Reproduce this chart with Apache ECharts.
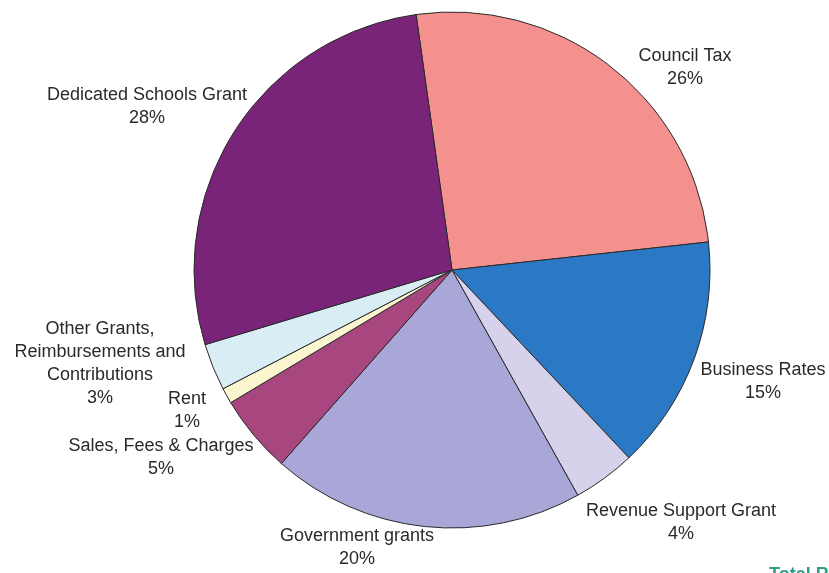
<!DOCTYPE html>
<html>
<head>
<meta charset="utf-8">
<script src="https://cdn.jsdelivr.net/npm/echarts@6/dist/echarts.min.js"></script>
<style>
  html, body { margin: 0; padding: 0; background: #ffffff; }
  #chart { width: 829px; height: 573px; }
</style>
</head>
<body>
<div id="chart"></div>
<script>
// Income sources, in clockwise order from the top
const categories = [
  'Council Tax',
  'Business Rates',
  'Revenue Support Grant',
  'Government grants',
  'Sales, Fees & Charges',
  'Rent',
  'Other Grants,\nReimbursements and\nContributions',
  'Dedicated Schools Grant'
];
const shares = [26, 15, 4, 20, 5, 1, 3, 28];

const sliceColors = ['#F4918F', '#2B79C4', '#D6D2EC', '#A9A6D8', '#A8467F', '#FBF6CF', '#D8EEF4', '#7A2479'];

// Where each label block is centred
const labelSpots = [
  [685, 68], [763, 382], [681, 523], [357, 548],
  [161, 458], [187, 411], [100, 364], [147, 107]
];

const chart = echarts.init(document.getElementById('chart'), null, { renderer: 'canvas' });

chart.setOption({
  backgroundColor: '#ffffff',
  animation: false,
  series: [{
    type: 'pie',
    center: [452, 270],
    radius: 258,
    startAngle: 98,
    clockwise: true,
    avoidLabelOverlap: false,
    itemStyle: { borderColor: '#2a2a2a', borderWidth: 1 },
    label: {
      show: true,
      position: 'outside',
      formatter: p => p.name + '\n' + p.value + '%',
      color: '#2a2a2a',
      fontFamily: 'Liberation Sans, Arial, sans-serif',
      fontSize: 18,
      lineHeight: 23,
      align: 'center'
    },
    labelLine: { show: false },
    emphasis: { disabled: true },
    labelLayout: params => {
      const s = labelSpots[params.dataIndex];
      return { x: s[0], y: s[1], align: 'center', verticalAlign: 'middle' };
    },
    data: categories.map((c, i) => ({
      name: c,
      value: shares[i],
      itemStyle: { color: sliceColors[i] }
    }))
  }],
  graphic: [{
    type: 'text',
    left: 769,
    top: 566,
    style: {
      text: 'Total Revenue',
      fill: '#2E9E88',
      font: 'bold 18px Liberation Sans, Arial, sans-serif'
    }
  }]
});
</script>
</body>
</html>
